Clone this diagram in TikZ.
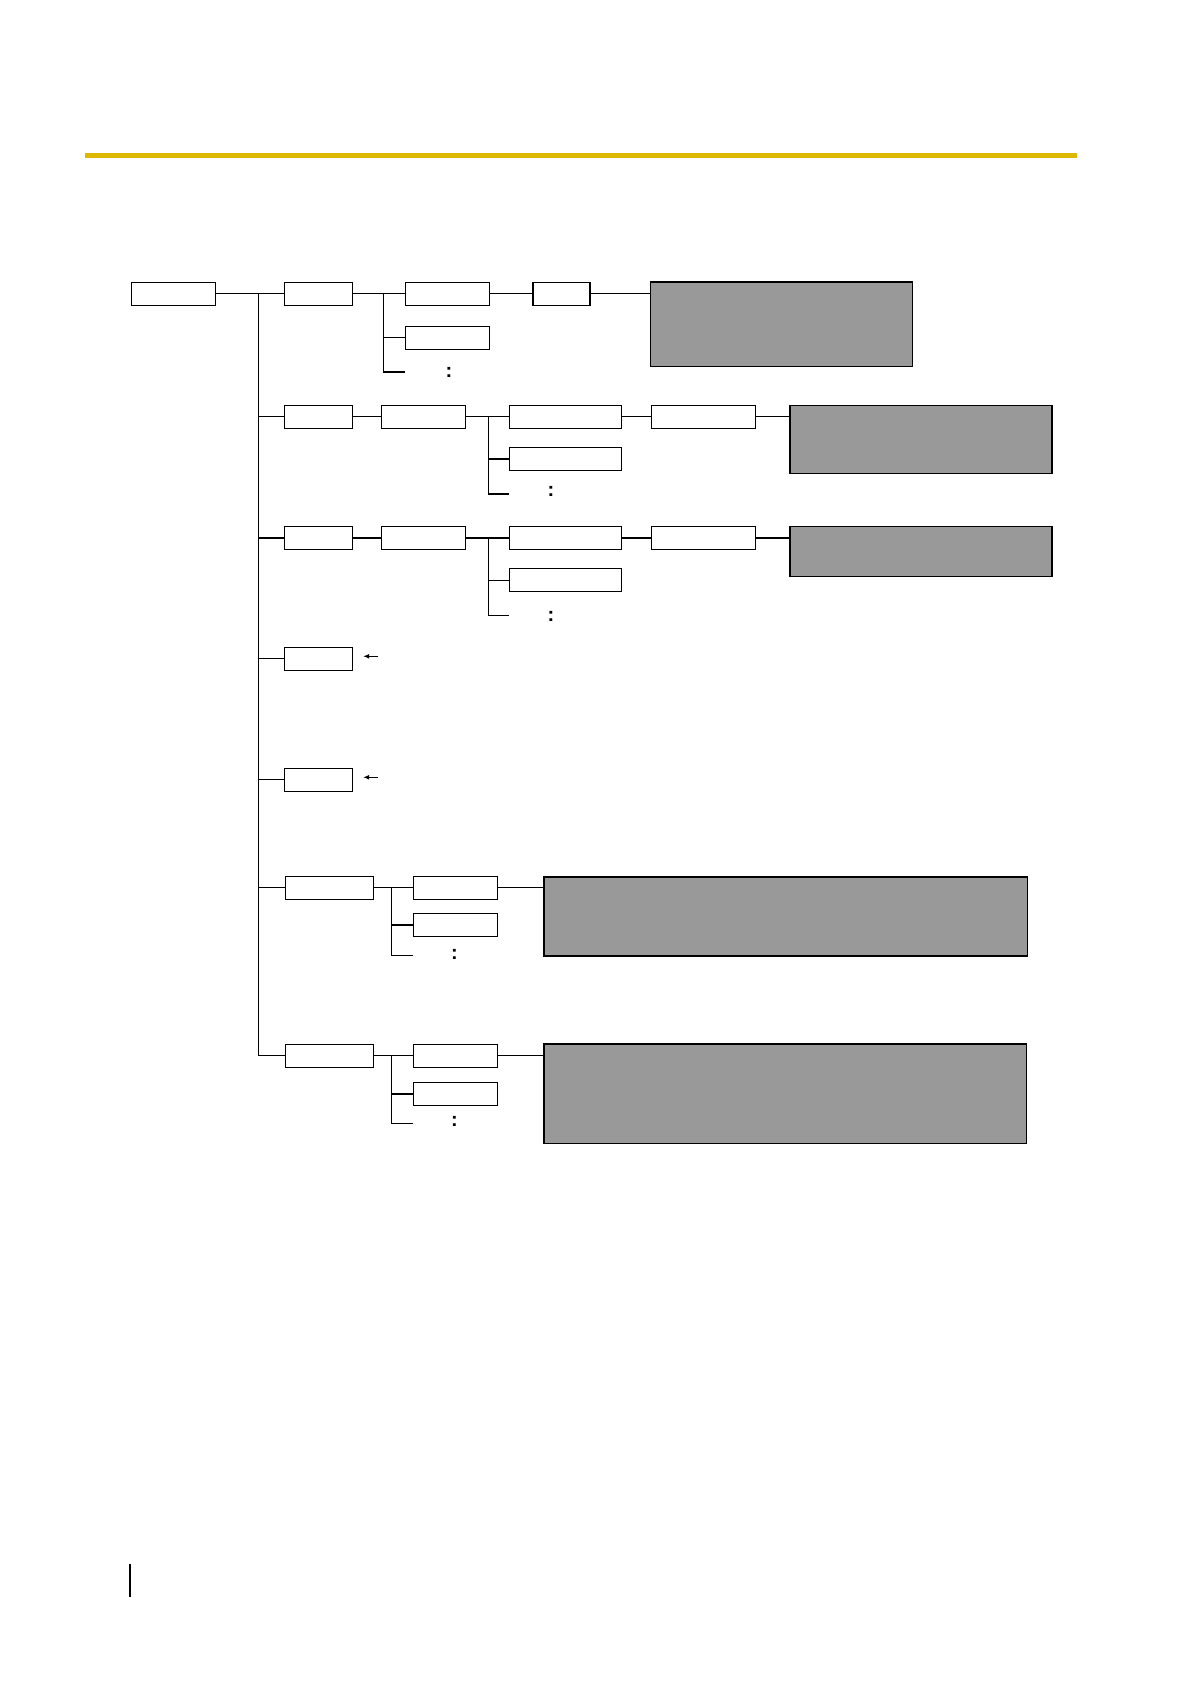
\documentclass[tikz,border=0pt]{standalone}
\usepackage{fontspec}
\setmainfont{Liberation Sans}
\usetikzlibrary{arrows.meta, positioning}
\definecolor{ruleyellow}{RGB}{221,183,0}
\definecolor{panelgray}{RGB}{153,153,153}
\tikzset{
    basic/.style={draw, rectangle, inner sep=0pt, line width=0.6pt},
    item/.style={basic, fill=white, minimum height=11.5pt},
    panel/.style={basic, fill=panelgray, anchor=north west},
    link/.style={line width=0.6pt},
    pointer/.style={-{Latex[length=3pt, width=2.5pt]}, line width=0.6pt},
    dots/.style={inner sep=0pt, font=\bfseries\fontsize{10}{12}\selectfont}
}

\begin{document}
\begin{tikzpicture}[
    x=0.5pt, y=-0.5pt, % one unit = one pixel of the page
    node distance=9pt and 15pt
]
    \useasboundingbox (0,0) rectangle (1191,1684);

    % header rule
    \draw[ruleyellow, line width=2.5pt] (85,155.7) -- (1077,155.7);

    % ============================================================
    % Row 1
    % ============================================================
    \node[item, minimum width=42pt, anchor=west] (root) at (131,293.7) {};
    \node[item, minimum width=34pt, anchor=west] (a1) at (284,293.7) {};
    \node[item, minimum width=42pt, right=26pt of a1] (a2) {};
    \node[item, minimum width=42pt, below=10pt of a2] (a2b) {};
    \node[item, minimum width=28.5pt, right=21pt of a2] (a3) {};
    \node[panel, minimum width=131pt, minimum height=42.4pt] (a4) at (649.7,281.4) {};
    \coordinate (a_br) at (383.5,293.7);
    \coordinate (a_end) at ([yshift=-39.15pt]a2.west);
    \node[dots] (a_more) at (449,372) {:};

    % ============================================================
    % Row 2
    % ============================================================
    \node[item, minimum width=34pt, anchor=west] (b1) at (284,416.7) {};
    \node[item, minimum width=42pt, right=13.8pt of b1] (b2) {};
    \node[item, minimum width=56pt, right=21.4pt of b2] (b3) {};
    \node[item, minimum width=56pt, below=9pt of b3] (b3b) {};
    \node[item, minimum width=52pt, right=14.5pt of b3] (b4) {};
    \node[panel, minimum width=131pt, minimum height=33.8pt] (b5) at (789.4,404.9) {};
    \coordinate (b_br) at (488.6,416.7);
    \coordinate (b_end) at ([yshift=-38.65pt]b3.west);
    \node[dots] (b_more) at (551,491) {:};

    % ============================================================
    % Row 3
    % ============================================================
    \node[item, minimum width=34pt, anchor=west] (c1) at (284,538) {};
    \node[item, minimum width=42pt, right=13.8pt of c1] (c2) {};
    \node[item, minimum width=56pt, right=21.4pt of c2] (c3) {};
    \node[item, minimum width=56pt, below=9pt of c3] (c3b) {};
    \node[item, minimum width=52pt, right=14.5pt of c3] (c4) {};
    \node[panel, minimum width=131pt, minimum height=24.7pt] (c5) at (789.4,526.2) {};
    \coordinate (c_br) at (488.6,538);
    \coordinate (c_end) at ([yshift=-38.65pt]c3.west);
    \node[dots] (c_more) at (551,616) {:};

    % ============================================================
    % Rows 4 and 5
    % ============================================================
    \node[item, minimum width=34pt, anchor=west] (d1) at (284,658.8) {};
    \coordinate (d1_tail) at ([xshift=12.5pt, yshift=1.25pt]d1.east);
    \coordinate (d1_tip) at ([xshift=5pt, yshift=1.25pt]d1.east);

    \node[item, minimum width=34pt, anchor=west] (e1) at (284,779.8) {};
    \coordinate (e1_tail) at ([xshift=12.5pt, yshift=1.25pt]e1.east);
    \coordinate (e1_tip) at ([xshift=5pt, yshift=1.25pt]e1.east);

    % ============================================================
    % Row 6
    % ============================================================
    \node[item, minimum width=44pt, anchor=west] (f1) at (284.5,887.8) {};
    \node[item, minimum width=42pt, right=19.5pt of f1] (f2) {};
    \node[item, minimum width=42pt, below=6.5pt of f2] (f2b) {};
    \node[panel, minimum width=241.7pt, minimum height=39.5pt] (f3) at (543.3,876.3) {};
    \coordinate (f_br) at (391.7,887.8);
    \coordinate (f_end) at ([yshift=-33.75pt]f2.west);
    \node[dots] (f_more) at (454.5,954) {:};

    % ============================================================
    % Row 7
    % ============================================================
    \node[item, minimum width=44pt, anchor=west] (g1) at (284.5,1055.8) {};
    \node[item, minimum width=42pt, right=19.5pt of g1] (g2) {};
    \node[item, minimum width=42pt, below=7pt of g2] (g2b) {};
    \node[panel, minimum width=241.2pt, minimum height=49.7pt] (g3) at (543.3,1043.3) {};
    \coordinate (g_br) at (391.7,1055.8);
    \coordinate (g_end) at ([yshift=-33.75pt]g2.west);
    \node[dots] (g_more) at (454.5,1121) {:};

    % ============================================================
    % Connections
    % ============================================================
    \coordinate (trunk) at (258.5,293.7);
    \draw[link] (root) -- (a1);
    \draw[link] (trunk) |- (g1.west);
    \draw[link] (trunk |- b1.west) -- (b1.west);
    \draw[link] (trunk |- c1.west) -- (c1.west);
    \draw[link] (trunk |- d1.west) -- (d1.west);
    \draw[link] (trunk |- e1.west) -- (e1.west);
    \draw[link] (trunk |- f1.west) -- (f1.west);

    % row 1
    \draw[link] (a1) -- (a2);
    \draw[link] (a_br) |- (a2b.west);
    \draw[link] (a_br) |- (a_end);
    \draw[link] (a2) -- (a3);
    \draw[link] (a3) -- (a3 -| a4.west);

    % row 2
    \draw[link] (b1) -- (b2);
    \draw[link] (b2) -- (b3);
    \draw[link] (b_br) |- (b3b.west);
    \draw[link] (b_br) |- (b_end);
    \draw[link] (b3) -- (b4);
    \draw[link] (b4) -- (b4 -| b5.west);

    % row 3
    \draw[link] (c1) -- (c2);
    \draw[link] (c2) -- (c3);
    \draw[link] (c_br) |- (c3b.west);
    \draw[link] (c_br) |- (c_end);
    \draw[link] (c3) -- (c4);
    \draw[link] (c4) -- (c4 -| c5.west);

    % rows 4 and 5
    \draw[pointer] (d1_tail) -- (d1_tip);
    \draw[pointer] (e1_tail) -- (e1_tip);

    % row 6
    \draw[link] (f1) -- (f2);
    \draw[link] (f_br) |- (f2b.west);
    \draw[link] (f_br) |- (f_end);
    \draw[link] (f2) -- (f2 -| f3.west);

    % row 7
    \draw[link] (g1) -- (g2);
    \draw[link] (g_br) |- (g2b.west);
    \draw[link] (g_br) |- (g_end);
    \draw[link] (g2) -- (g2 -| g3.west);

    % page margin bar
    \draw[line width=1.35pt] (130,1564) -- (130,1597);
\end{tikzpicture}
\end{document}
